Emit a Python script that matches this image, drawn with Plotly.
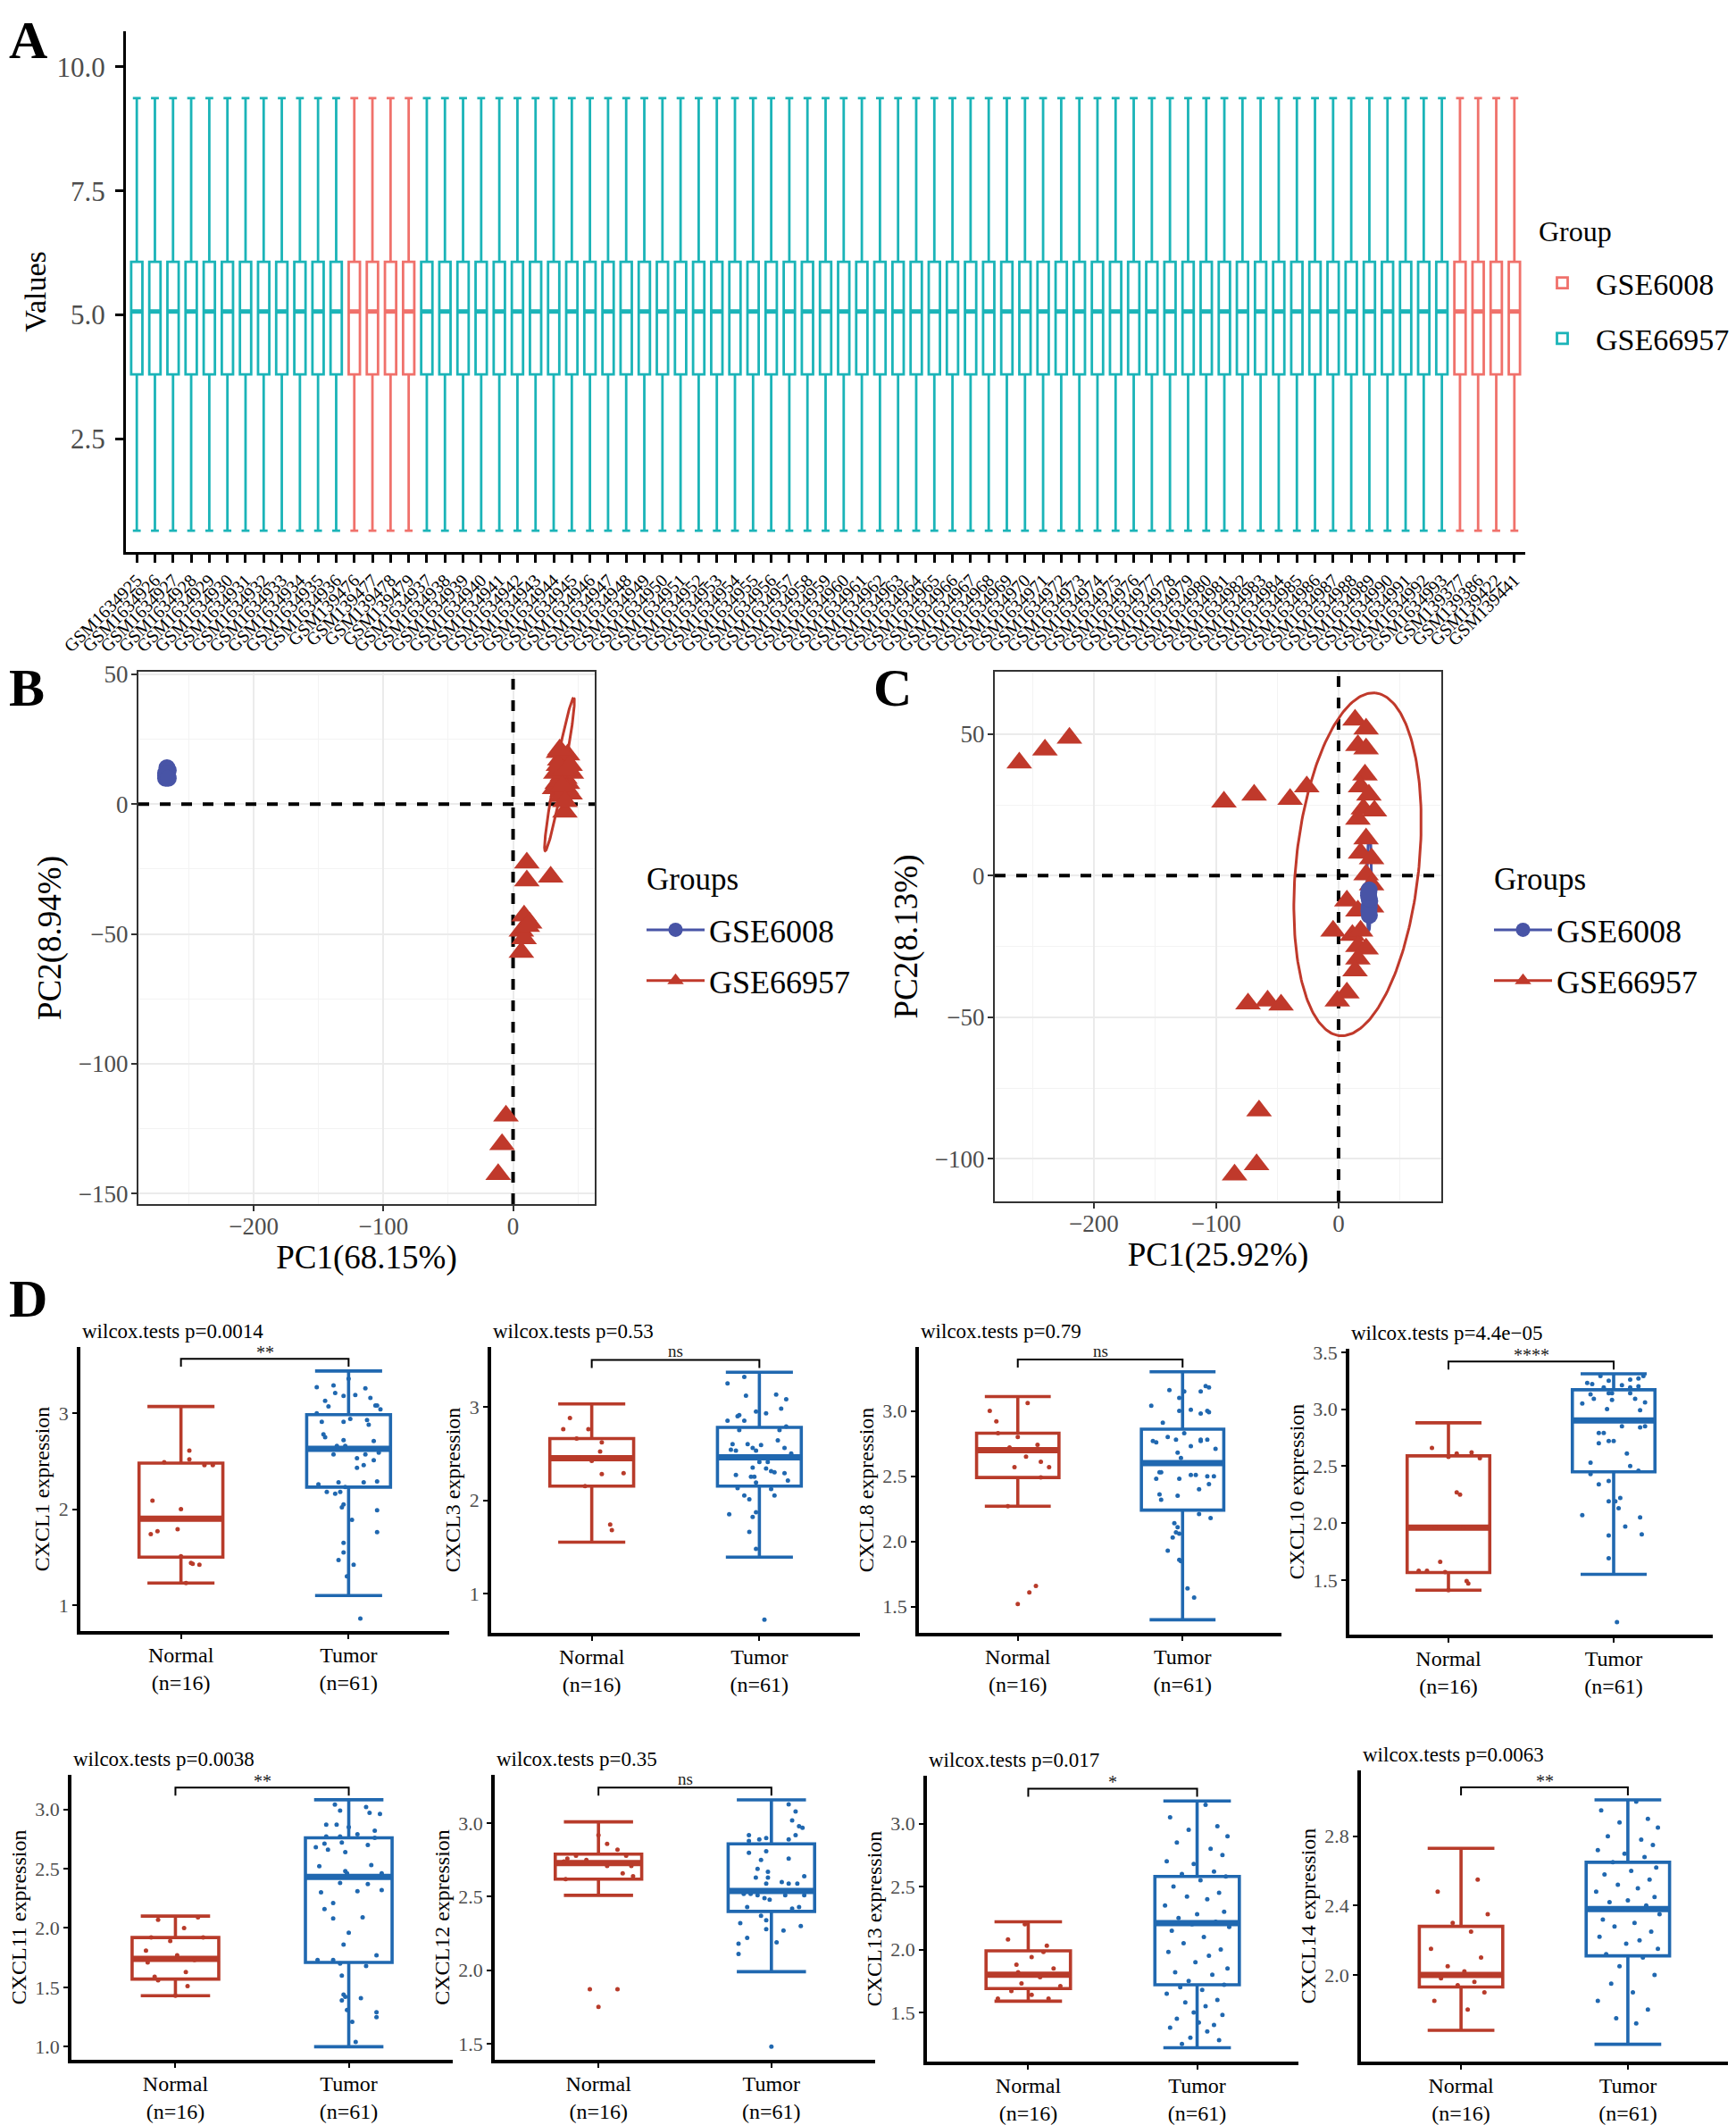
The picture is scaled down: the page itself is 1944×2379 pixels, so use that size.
import numpy as np
import plotly.graph_objects as go

W, H = 1944, 2379
SERIF = "Liberation Serif"
TXT_GREY = "#4D4D4D"

# ======================= DATA =======================
# ---- Panel A : normalised expression boxplots ----
A_samples = ([f"GSM16349{n}" for n in range(25, 37)]
             + [f"GSM1394{n}" for n in range(76, 80)]
             + [f"GSM16349{n}" for n in range(37, 94)]
             + ["GSM139377", "GSM139386", "GSM139422", "GSM139441"])
A_group = ["GSE66957"] * 12 + ["GSE6008"] * 4 + ["GSE66957"] * 57 + ["GSE6008"] * 4
A_lower = [0.65] * 77
A_q1 = [3.80] * 77
A_median = [5.07] * 77
A_q3 = [6.07] * 77
A_upper = [9.37] * 77

# ---- Panel B : PCA before correction ----
B_6008_x = [-268, -267, -268, -266, -267, -268, -267, -266]
B_6008_y = [10, 11, 12, 13, 14, 11, 12, 10]
B_66957_x = [35, 36, 37, 38, 34, 40, 32, 38, 43, 41, 39, 42, 36, 44, 40, 45, 33, 37, 42, 39, 35, 41, 38, 44, 36, 40,
             10.6, 10.6, 29, 8.5, 12.8, 6.4, 8.5, 6.4, 11, -5.5, -8.5, -11.5]
B_66957_y = [20, 17, 14, 11, 8, 10, 6, 5, 13, 16, 18, 8, 9, 4, -3, 12, 12, 3, 19, 13, 15, 6, 7, 15, 21, 1,
             -22.6, -29.5, -28, -43, -45.7, -48.8, -51.8, -57, -47, -120, -131, -142.6]
B_ell_center = (35.8, 11.5)
B_ell_a = (11.0, 29.5)
B_ell_b = (3.4, -0.3)

# ---- Panel C : PCA after correction ----
C_6008_x = [25, 24.5, 25.5, 25, 24.8, 25.2, 25, 24.6]
C_6008_y = [-5, -7, -9, -11, -12.5, -14, -8, -6]
C_66957_x = [-261, -240, -220, -93.7, -69, -39.6, -26, 13.5, 22.5, 15.8, 22.5, 21.6, 18, 24.8, 20.3, 29.3, 15.8,
             22.5, 18, 27, 22.5, 27, 6.8, 27, 15.8, -4.5, 11.3, 18, 15.8, 22.5, 15.8, 13.5, 6.8, -1,
             -74, -58, -47, -65, -67, -85]
C_66957_y = [39.8, 44.4, 48.6, 26, 28.5, 27, 31.4, 55, 51.8, 46, 44.8, 35.6, 31.4, 28.5, 23.6, 22.9, 20,
             13, 8, 6, 0.3, -3.2, -8.9, -11, -12.4, -19.5, -21, -19.5, -25, -25.8, -29.4, -33.6, -41.4, -44.2,
             -45.2, -44.2, -45.6, -83, -102, -105.6]
C_red_ell_center = (15.5, 4.0)
C_red_ell_a = (14.5, 60.5)
C_red_ell_b = (50.0, -2.0)
C_blue_ell_center = (25.0, -2.5)
C_blue_ell_a = (0.3, 17.0)
C_blue_ell_b = (1.8, 0.0)

# ---- Panel D : chemokine expression, Normal vs Tumor ----
genes = ["CXCL1", "CXCL3", "CXCL8", "CXCL10", "CXCL11", "CXCL12", "CXCL13", "CXCL14"]
pvals = ["0.0014", "0.53", "0.79", "4.4e\u221205", "0.0038", "0.35", "0.017", "0.0063"]
signif = ["**", "ns", "ns", "****", "**", "ns", "*", "**"]
cats = ["Normal<br>(n=16)", "Tumor<br>(n=61)"]
# box stats: lower whisker, Q1, median, Q3, upper whisker
normal_stats = [[1.23, 1.50, 1.90, 2.48, 3.07], [1.55, 2.15, 2.45, 2.66, 3.03], [2.27, 2.49, 2.70, 2.83, 3.11],
                [1.41, 1.565, 1.96, 2.59, 2.88], [1.43, 1.57, 1.74, 1.92, 2.10], [2.51, 2.62, 2.73, 2.79, 3.01],
                [1.59, 1.69, 1.80, 1.99, 2.22], [1.68, 1.93, 2.00, 2.28, 2.73]]
tumor_stats = [[1.10, 2.23, 2.63, 2.985, 3.44], [1.39, 2.15, 2.46, 2.78, 3.37], [1.40, 2.24, 2.60, 2.86, 3.30],
               [1.55, 2.45, 2.90, 3.17, 3.31], [1.00, 1.71, 2.43, 2.76, 3.08], [1.99, 2.40, 2.54, 2.86, 3.16],
               [1.22, 1.72, 2.21, 2.58, 3.18], [1.60, 2.11, 2.38, 2.65, 3.01]]

cxcl1_n = [2.61, 2.52, 2.49, 2.46, 2.46, 2.09, 2.00, 1.74, 1.77, 1.79, 1.51, 1.44, 1.43, 1.42, 1.90, 1.23]
cxcl1_nj = [0.05, 0.05, -0.10, 0.14, 0.19, -0.17, 0.00, -0.18, -0.14, -0.02, 0.00, 0.06, 0.07, 0.11, -0.05, 0.03]
cxcl1_t = [3.27, 3.29, 3.36, 3.26, 3.21, 3.18, 3.19, 3.16, 3.13, 3.07, 3.08, 3.08, 3.04, 3.00, 2.91, 2.91, 2.94,
           2.93, 2.88, 2.78, 2.75, 2.72, 2.71, 2.66, 2.66, 2.57, 2.53, 2.57, 2.59, 2.51, 2.46, 2.43, 2.26, 2.28,
           2.28, 2.29, 2.18, 2.16, 2.18, 2.23, 2.05, 2.02, 1.99, 1.89, 1.76, 1.65, 1.55, 1.47, 1.42, 1.30, 0.86]
cxcl1_tj = [-0.19, -0.09, 0.00, 0.10, -0.08, -0.03, 0.04, 0.13, -0.14, -0.12, 0.16, 0.17, 0.19, -0.19, -0.16,
            -0.03, 0.01, 0.11, 0.12, -0.15, -0.14, -0.03, 0.15, -0.07, -0.02, -0.09, 0.05, 0.10, 0.18, 0.15, 0.09,
            0.05, -0.18, -0.06, 0.09, 0.17, -0.13, -0.08, -0.05, -0.02, -0.03, -0.04, 0.17, 0.02, 0.17, -0.03,
            -0.03, -0.06, 0.03, -0.01, 0.07]

cxcl3_n = [2.88, 2.76, 2.76, 2.62, 2.52, 2.42, 2.28, 2.29, 1.74, 1.68, 2.66, 2.45, 2.15, 2.46]
cxcl3_nj = [-0.13, -0.17, -0.02, 0.06, 0.05, 0.00, 0.06, 0.19, 0.11, 0.12, -0.09, 0.15, -0.04, -0.08]
cxcl3_t = [3.25, 3.32, 3.12, 3.13, 3.08, 2.98, 2.95, 2.93, 2.90, 2.91, 2.85, 2.85, 2.79, 2.75, 2.75, 2.64, 2.60,
           2.60, 2.59, 2.56, 2.53, 2.54, 2.53, 2.56, 2.50, 2.41, 2.41, 2.35, 2.34, 2.31, 2.30, 2.29, 2.27, 2.25,
           2.25, 2.19, 2.21, 2.13, 2.12, 2.05, 2.01, 2.05, 1.85, 1.87, 1.82, 1.66, 1.48, 0.72]
cxcl3_tj = [-0.19, -0.09, -0.08, 0.10, 0.16, 0.13, -0.02, 0.04, -0.13, -0.12, -0.19, -0.09, 0.16, -0.12, 0.12,
            0.11, -0.16, -0.07, 0.01, -0.04, -0.02, -0.17, -0.14, 0.15, 0.19, 0.05, 0.00, -0.04, 0.04, 0.07, 0.09,
            0.15, -0.14, -0.05, -0.03, -0.02, 0.17, -0.13, 0.07, -0.09, -0.06, 0.09, -0.18, -0.02, -0.04, -0.06,
            -0.02, 0.03]

cxcl8_n = [3.00, 3.06, 2.92, 2.80, 2.72, 2.74, 2.57, 2.61, 2.57, 1.52, 1.61, 1.66, 2.65, 2.83, 2.49, 2.27]
cxcl8_nj = [-0.17, 0.06, -0.13, 0.00, -0.05, 0.12, -0.02, 0.14, 0.19, 0.00, 0.07, 0.11, 0.05, -0.12, 0.14, -0.06]
cxcl8_t = [3.04, 3.16, 3.10, 3.15, 3.15, 3.19, 3.18, 3.00, 3.01, 2.98, 3.00, 2.99, 2.91, 2.83, 2.77, 2.76, 2.80,
           2.78, 2.78, 2.77, 2.78, 2.73, 2.71, 2.68, 2.64, 2.53, 2.53, 2.48, 2.48, 2.51, 2.51, 2.50, 2.50, 2.44,
           2.40, 2.36, 2.32, 2.35, 2.21, 2.18, 2.14, 2.11, 2.07, 2.06, 2.03, 1.93, 1.86, 1.85, 1.64, 1.57]
cxcl8_tj = [-0.19, -0.08, -0.02, 0.01, 0.11, 0.14, 0.16, -0.02, 0.05, 0.11, 0.15, 0.16, -0.12, 0.01, -0.18,
            -0.16, -0.09, -0.04, 0.11, 0.11, 0.15, 0.05, 0.20, -0.03, -0.01, -0.14, -0.13, -0.16, -0.02, 0.05,
            0.08, 0.15, 0.19, 0.16, 0.10, -0.14, -0.13, -0.03, 0.10, 0.17, -0.05, -0.03, -0.04, -0.02, -0.06,
            -0.09, -0.02, -0.01, 0.03, 0.07]

cxcl10_n = [2.66, 2.61, 2.58, 2.62, 2.57, 2.27, 2.25, 1.66, 1.58, 1.58, 1.57, 1.49, 1.47, 1.96, 1.96, 1.41]
cxcl10_nj = [-0.10, 0.05, 0.00, 0.14, 0.19, 0.05, 0.07, -0.05, -0.18, -0.13, -0.02, 0.11, 0.12, -0.08, 0.09, 0.00]
cxcl10_t = [3.29, 3.25, 3.23, 3.22, 3.19, 3.21, 3.19, 3.26, 3.20, 3.27, 3.29, 3.14, 3.14, 3.14, 3.13, 3.09, 3.08,
            3.09, 3.05, 3.06, 3.00, 2.99, 2.85, 2.84, 2.85, 2.79, 2.79, 2.70, 2.72, 2.72, 2.61, 2.53, 2.50, 2.46,
            2.43, 2.37, 2.34, 2.22, 2.19, 2.19, 2.13, 2.07, 2.05, 1.97, 1.90, 1.89, 1.69, 1.13]
cxcl10_tj = [-0.08, -0.03, -0.16, -0.13, -0.06, 0.05, 0.10, 0.10, 0.15, 0.15, 0.18, -0.03, -0.01, 0.10, -0.14,
             -0.12, -0.01, 0.13, -0.19, 0.19, -0.04, 0.16, 0.05, 0.16, 0.19, -0.09, -0.06, -0.09, -0.03, 0.00,
             0.08, -0.14, 0.10, 0.15, -0.14, -0.03, -0.09, 0.04, -0.03, 0.01, 0.03, -0.19, 0.16, 0.07, 0.17,
             -0.03, -0.03, 0.02]

cxcl11_n = [2.07, 2.00, 1.89, 1.81, 1.77, 1.71, 1.63, 1.59, 1.51, 2.09, 1.92, 1.74, 1.43, 1.73, 1.56, 1.92]
cxcl11_nj = [-0.10, 0.05, -0.03, -0.17, 0.01, -0.16, 0.06, -0.12, 0.07, 0.13, 0.16, -0.20, 0.00, 0.11, -0.10, -0.14]
cxcl11_t = [3.04, 2.99, 3.02, 2.97, 2.96, 2.87, 2.87, 2.85, 2.82, 2.79, 2.77, 2.77, 2.76, 2.68, 2.71, 2.72, 2.70,
            2.66, 2.64, 2.52, 2.53, 2.48, 2.46, 2.46, 2.38, 2.37, 2.31, 2.32, 2.30, 2.21, 2.16, 2.09, 2.08, 1.96,
            1.86, 1.77, 1.73, 1.73, 1.70, 1.68, 1.60, 1.44, 1.42, 1.39, 1.41, 1.31, 1.29, 1.25, 1.21, 1.04]
cxcl11_tj = [-0.08, -0.05, 0.10, 0.12, 0.18, -0.13, -0.07, 0.00, 0.15, 0.05, -0.13, -0.05, 0.15, -0.19, -0.14,
             -0.04, 0.11, -0.12, -0.02, -0.17, 0.13, -0.02, -0.01, 0.19, -0.05, 0.11, 0.05, 0.19, -0.16, -0.09,
             -0.14, 0.08, -0.09, 0.00, -0.03, 0.16, -0.18, -0.09, -0.05, 0.10, -0.04, -0.03, -0.02, -0.04, 0.07,
             -0.01, 0.16, 0.16, 0.02, 0.04]

cxcl12_n = [2.92, 2.86, 2.82, 2.76, 2.78, 2.71, 2.71, 2.66, 1.87, 1.87, 1.75, 2.75, 2.78, 2.62, 2.64, 2.74]
cxcl12_nj = [0.00, 0.05, 0.11, -0.18, -0.13, 0.05, 0.19, 0.14, -0.05, 0.11, 0.00, -0.07, 0.16, -0.19, 0.20, -0.20]
cxcl12_t = [3.13, 3.08, 3.02, 2.98, 2.97, 2.92, 2.92, 2.89, 2.90, 2.89, 2.88, 2.80, 2.81, 2.75, 2.76, 2.69, 2.67,
            2.63, 2.63, 2.64, 2.60, 2.59, 2.59, 2.59, 2.52, 2.52, 2.51, 2.49, 2.48, 2.51, 2.51, 2.43, 2.42, 2.43,
            2.37, 2.34, 2.32, 2.30, 2.28, 2.27, 2.22, 2.19, 2.18, 2.11, 1.48]
cxcl12_tj = [0.10, 0.14, 0.12, 0.16, 0.18, -0.13, 0.14, -0.07, -0.03, 0.10, -0.13, -0.13, -0.03, -0.06, 0.10,
             -0.08, -0.02, -0.09, -0.02, 0.19, 0.06, -0.03, 0.10, 0.15, -0.16, -0.12, -0.08, -0.04, -0.01, 0.08,
             0.19, -0.14, 0.12, 0.16, -0.06, -0.03, -0.18, 0.17, -0.03, 0.07, -0.14, 0.03, -0.19, -0.19, 0.00]

cxcl13_n = [2.20, 2.08, 2.03, 1.98, 1.94, 1.88, 1.85, 1.82, 1.80, 1.78, 1.73, 1.71, 1.67, 1.64, 1.61, 1.61]
cxcl13_nj = [-0.02, -0.12, 0.11, 0.09, 0.02, -0.07, 0.15, -0.06, -0.15, 0.07, -0.04, 0.19, -0.10, 0.02, -0.18, 0.12]
cxcl13_t = [3.15, 3.05, 2.98, 2.95, 2.90, 2.85, 2.80, 2.75, 2.70, 2.68, 2.62, 2.60, 2.58, 2.55, 2.50, 2.45, 2.42,
            2.40, 2.35, 2.30, 2.28, 2.25, 2.22, 2.20, 2.18, 2.15, 2.10, 2.05, 2.00, 1.98, 1.95, 1.90, 1.85, 1.82,
            1.80, 1.75, 1.72, 1.70, 1.68, 1.65, 1.60, 1.58, 1.55, 1.50, 1.48, 1.45, 1.42, 1.40, 1.38, 1.35, 1.30,
            1.28, 1.25]
cxcl13_tj = [0.05, -0.16, 0.12, -0.05, 0.18, -0.12, 0.08, 0.15, -0.18, -0.02, 0.10, -0.09, 0.17, 0.02, -0.14,
             0.13, -0.06, 0.06, -0.19, 0.16, 0.00, -0.11, 0.11, -0.03, 0.19, -0.15, 0.04, -0.08, 0.14, -0.17, 0.07,
             -0.01, 0.18, -0.13, 0.09, -0.05, 0.16, -0.10, 0.03, -0.18, 0.12, -0.07, 0.05, -0.02, 0.15, -0.12, 0.01,
             0.10, -0.16, 0.06, -0.04, 0.13, -0.09]

cxcl14_n = [2.55, 2.48, 2.35, 2.30, 2.25, 2.15, 2.10, 2.05, 2.02, 2.00, 1.98, 1.96, 1.94, 1.90, 1.85, 1.80]
cxcl14_nj = [0.10, -0.14, 0.16, -0.05, 0.06, -0.18, 0.12, -0.08, 0.02, 0.17, -0.12, 0.08, -0.02, 0.14, -0.16, 0.04]
cxcl14_t = [3.00, 2.95, 2.90, 2.88, 2.85, 2.80, 2.78, 2.75, 2.72, 2.70, 2.68, 2.65, 2.62, 2.60, 2.58, 2.55, 2.52,
            2.50, 2.48, 2.45, 2.43, 2.42, 2.40, 2.38, 2.35, 2.32, 2.30, 2.28, 2.25, 2.22, 2.20, 2.18, 2.15, 2.12,
            2.10, 2.05, 2.00, 1.95, 1.90, 1.85, 1.80, 1.75, 1.72]
cxcl14_tj = [0.05, -0.16, 0.12, -0.05, 0.18, -0.12, 0.08, 0.15, -0.18, -0.02, 0.10, -0.09, 0.17, 0.02, -0.14,
             0.13, -0.06, 0.06, -0.19, 0.16, 0.00, -0.11, 0.11, -0.03, 0.19, -0.15, 0.04, -0.08, 0.14, -0.17, 0.07,
             -0.01, 0.18, -0.13, 0.09, -0.05, 0.16, -0.10, 0.03, -0.18, 0.12, -0.07, 0.05]

normal_pts = [cxcl1_n, cxcl3_n, cxcl8_n, cxcl10_n, cxcl11_n, cxcl12_n, cxcl13_n, cxcl14_n]
normal_jit = [cxcl1_nj, cxcl3_nj, cxcl8_nj, cxcl10_nj, cxcl11_nj, cxcl12_nj, cxcl13_nj, cxcl14_nj]
tumor_pts = [cxcl1_t, cxcl3_t, cxcl8_t, cxcl10_t, cxcl11_t, cxcl12_t, cxcl13_t, cxcl14_t]
tumor_jit = [cxcl1_tj, cxcl3_tj, cxcl8_tj, cxcl10_tj, cxcl11_tj, cxcl12_tj, cxcl13_tj, cxcl14_tj]

# ======================= STYLE / LAYOUT =======================
TEAL, SALMON = "#1BB4B8", "#F0716B"
PC_RED, PC_BLUE = "#C0392B", "#4854A6"
N_RED, T_BLUE = "#B83B2A", "#2068B0"


def xdom(x0, x1):
    return [x0 / W, x1 / W]


def ydom(y0, y1):
    return [1 - y1 / H, 1 - y0 / H]


def px_x(x):
    return x / W


def px_y(y):
    return 1 - y / H


def ellipse(c, a, b, n=240):
    t = np.linspace(0, 2 * np.pi, n)
    return c[0] + a[0] * np.cos(t) + b[0] * np.sin(t), c[1] + a[1] * np.cos(t) + b[1] * np.sin(t)


fig = go.Figure()
layout = dict(template="none", width=W, height=H, margin=dict(l=0, r=0, t=0, b=0, autoexpand=False),
              paper_bgcolor="white", plot_bgcolor="rgba(0,0,0,0)", font=dict(family=SERIF, color="black"),
              showlegend=True, boxmode="overlay")
annotations, shapes = [], []

# ---------------- Panel A ----------------
A_pos = list(range(len(A_samples)))
A_colors = {"GSE6008": SALMON, "GSE66957": TEAL}
for grp in ["GSE6008", "GSE66957"]:
    idx = [i for i, g in enumerate(A_group) if g == grp]
    fig.add_trace(go.Box(
        x=[A_pos[i] for i in idx], q1=[A_q1[i] for i in idx], median=[A_median[i] for i in idx],
        q3=[A_q3[i] for i in idx], lowerfence=[A_lower[i] for i in idx], upperfence=[A_upper[i] for i in idx],
        name=grp, legendgroup=grp, legend="legend", width=0.62, whiskerwidth=0.7, boxpoints=False,
        line=dict(color=A_colors[grp], width=2.8), fillcolor="rgba(255,255,255,0)", xaxis="x", yaxis="y",
        hoverinfo="skip"))
    mx, my = [], []
    for i in idx:
        mx += [A_pos[i] - 0.31, A_pos[i] + 0.31, None]
        my += [A_median[i], A_median[i], None]
    fig.add_trace(go.Scatter(x=mx, y=my, mode="lines", line=dict(color=A_colors[grp], width=5),
                             showlegend=False, hoverinfo="skip", xaxis="x", yaxis="y"))
layout["xaxis"] = dict(domain=xdom(133, 1700), anchor="y", range=[-0.6, 76.6], tickmode="array", tickvals=A_pos,
                       ticktext=A_samples, tickangle=-45, automargin=False,
                       tickfont=dict(size=20, color="black"), showline=True, linecolor="black", linewidth=3,
                       ticks="outside", ticklen=9, tickwidth=2.5, tickcolor="black", showgrid=False, zeroline=False)
layout["yaxis"] = dict(domain=ydom(27, 610), anchor="x", range=[0.22, 10.72], tickvals=[2.5, 5.0, 7.5, 10.0],
                       ticktext=["2.5", "5.0", "7.5", "10.0"], tickfont=dict(size=31, color=TXT_GREY),
                       showline=True, linecolor="black", linewidth=3, ticks="outside", ticklen=9, tickwidth=2.5,
                       tickcolor="black", showgrid=False, zeroline=False, automargin=False, ticklabelstandoff=5,
                       title=dict(text="Values", font=dict(size=34), standoff=2))
layout["legend"] = dict(x=px_x(1704), y=px_y(280), xanchor="left", yanchor="top", bgcolor="rgba(0,0,0,0)",
                        font=dict(size=34), tracegroupgap=15, itemwidth=65)
annotations.append(dict(x=px_x(1713), y=px_y(251), xref="paper", yref="paper", text="Group", showarrow=False,
                        xanchor="left", yanchor="middle", font=dict(size=32, color="black")))


# ---------------- Panel B & C (PCA) ----------------
def pca_axes(k, xd, yd, xr, yr, xtitle, ytitle):
    common = dict(showline=True, mirror=True, linecolor="#333333", linewidth=2.2, ticks="outside", ticklen=6,
                  tickwidth=2, tickcolor="#333333", tickfont=dict(size=27, color=TXT_GREY), showgrid=True,
                  gridcolor="#EBEBEB", gridwidth=2.2, zeroline=False, automargin=False)
    layout[f"xaxis{k}"] = dict(domain=xd, anchor=f"y{k}", range=xr, dtick=100, tick0=0, ticklabelstandoff=-7,
                               minor=dict(dtick=50, tick0=0, showgrid=True, gridcolor="#F3F3F3", gridwidth=1.2),
                               title=dict(text=xtitle, font=dict(size=37), standoff=2), **common)
    layout[f"yaxis{k}"] = dict(domain=yd, anchor=f"x{k}", range=yr, dtick=50, tick0=0, ticklabelstandoff=-2,
                               minor=dict(dtick=25, tick0=0, showgrid=True, gridcolor="#F3F3F3", gridwidth=1.2),
                               title=dict(text=ytitle, font=dict(size=37), standoff=8), **common)


pca_axes(2, xdom(147, 658), ydom(744, 1340), [-289, 63], [-154, 51], "PC1(68.15%)", "PC2(8.94%)")
pca_axes(3, xdom(1106, 1606), ydom(744, 1337), [-281, 84], [-115, 72], "PC1(25.92%)", "PC2(8.13%)")


def pca_traces(k, xr, yr, bx, by, rx, ry, ells, leg):
    # reference lines at PC1 = 0 and PC2 = 0
    fig.add_trace(go.Scatter(x=[0, 0], y=yr, mode="lines", line=dict(color="black", width=4, dash="dash"),
                             showlegend=False, hoverinfo="skip", xaxis=f"x{k}", yaxis=f"y{k}"))
    fig.add_trace(go.Scatter(x=xr, y=[0, 0], mode="lines", line=dict(color="black", width=4, dash="dash"),
                             showlegend=False, hoverinfo="skip", xaxis=f"x{k}", yaxis=f"y{k}"))
    for (c, a, b, col) in ells:
        ex, ey = ellipse(c, a, b)
        fig.add_trace(go.Scatter(x=ex, y=ey, mode="lines", line=dict(color=col, width=3), showlegend=False,
                                 hoverinfo="skip", xaxis=f"x{k}", yaxis=f"y{k}"))
    fig.add_trace(go.Scatter(x=rx, y=ry, mode="markers", marker=dict(symbol="triangle-up", size=25, color=PC_RED),
                             showlegend=False, xaxis=f"x{k}", yaxis=f"y{k}"))
    fig.add_trace(go.Scatter(x=bx, y=by, mode="markers", marker=dict(symbol="circle", size=19, color=PC_BLUE),
                             showlegend=False, xaxis=f"x{k}", yaxis=f"y{k}"))
    fig.add_trace(go.Scatter(x=[None], y=[None], mode="lines+markers", name="GSE6008", legend=leg,
                             legendgroup=f"{leg}a", marker=dict(symbol="circle", size=19, color=PC_BLUE),
                             line=dict(color=PC_BLUE, width=3), xaxis=f"x{k}", yaxis=f"y{k}"))
    fig.add_trace(go.Scatter(x=[None], y=[None], mode="lines+markers", name="GSE66957", legend=leg,
                             legendgroup=f"{leg}b", marker=dict(symbol="triangle-up", size=22, color=PC_RED),
                             line=dict(color=PC_RED, width=3), xaxis=f"x{k}", yaxis=f"y{k}"))


pca_traces(2, [-289, 63], [-154, 51], B_6008_x, B_6008_y, B_66957_x, B_66957_y,
           [(B_ell_center, B_ell_a, B_ell_b, PC_RED)], "legend2")
pca_traces(3, [-281, 84], [-115, 72], C_6008_x, C_6008_y, C_66957_x, C_66957_y,
           [(C_red_ell_center, C_red_ell_a, C_red_ell_b, PC_RED),
            (C_blue_ell_center, C_blue_ell_a, C_blue_ell_b, PC_BLUE)], "legend3")
for name, xpx, tx in (("legend2", 711, 714), ("legend3", 1660, 1663)):
    layout[name] = dict(x=px_x(xpx), y=px_y(1003), xanchor="left", yanchor="top", bgcolor="rgba(0,0,0,0)",
                        font=dict(size=36), tracegroupgap=7, itemwidth=65)
    annotations.append(dict(x=px_x(tx), y=px_y(977), xref="paper", yref="paper", text="Groups", showarrow=False,
                            xanchor="left", yanchor="middle", font=dict(size=35, color="black")))

# ---------------- Panel D ----------------
D_xpx = [(82, 495), (542, 955), (1021, 1427), (1503, 1910), (72, 499), (546, 972), (1030, 1446), (1516, 1927)]
D_ypx = [(1500, 1818), (1500, 1820), (1500, 1820), (1502, 1822), (1979, 2298), (1979, 2298), (1980, 2300),
         (1974, 2300)]
D_yrange = [(0.73, 3.69), (0.58, 3.64), (1.30, 3.49), (1.02, 3.53), (0.89, 3.29), (1.39, 3.33), (1.11, 3.38),
            (1.50, 3.18)]
D_ticks = [[1, 2, 3], [1, 2, 3], [1.5, 2.0, 2.5, 3.0], [1.5, 2.0, 2.5, 3.0, 3.5], [1.0, 1.5, 2.0, 2.5, 3.0],
           [1.5, 2.0, 2.5, 3.0], [1.5, 2.0, 2.5, 3.0], [2.0, 2.4, 2.8]]
D_ticktext = [["1", "2", "3"], ["1", "2", "3"], ["1.5", "2.0", "2.5", "3.0"], ["1.5", "2.0", "2.5", "3.0", "3.5"],
              ["1.0", "1.5", "2.0", "2.5", "3.0"], ["1.5", "2.0", "2.5", "3.0"], ["1.5", "2.0", "2.5", "3.0"],
              ["2.0", "2.4", "2.8"]]

for i, g in enumerate(genes):
    k = i + 4
    xa, ya = f"x{k}", f"y{k}"
    for pos, stats, col in ((1, normal_stats[i], N_RED), (2, tumor_stats[i], T_BLUE)):
        fig.add_trace(go.Box(x=[pos], lowerfence=[stats[0]], q1=[stats[1]], median=[stats[2]], q3=[stats[3]],
                             upperfence=[stats[4]], width=0.5, whiskerwidth=0.8, boxpoints=False,
                             line=dict(color=col, width=3.6), fillcolor="rgba(255,255,255,0)",
                             showlegend=False, hoverinfo="skip", xaxis=xa, yaxis=ya))
        # thicker median bar (ggplot fatten)
        fig.add_trace(go.Scatter(x=[pos - 0.25, pos + 0.25], y=[stats[2], stats[2]], mode="lines",
                                 line=dict(color=col, width=7), showlegend=False, hoverinfo="skip",
                                 xaxis=xa, yaxis=ya))
    for pos, vals, jit, col in ((1, normal_pts[i], normal_jit[i], N_RED), (2, tumor_pts[i], tumor_jit[i], T_BLUE)):
        fig.add_trace(go.Scatter(x=[pos + j for j in jit[:len(vals)]], y=vals[:len(jit)], mode="markers",
                                 marker=dict(size=5, color=col), showlegend=False, xaxis=xa, yaxis=ya))
    y0, y1 = D_yrange[i]
    span = y1 - y0
    top = max(normal_stats[i][4], tumor_stats[i][4], max(normal_pts[i]), max(tumor_pts[i]))
    yb = top + 0.043 * span
    drop = 0.028 * span
    shapes.append(dict(type="path", xref=xa, yref=ya, line=dict(color="black", width=2),
                       path=f"M 1,{yb - drop} L 1,{yb} L 2,{yb} L 2,{yb - drop}"))
    annotations.append(dict(x=1.5, y=yb, xref=xa, yref=ya, text=signif[i], showarrow=False,
                            yanchor="bottom", yshift=-6 if signif[i] != "ns" else -3,
                            font=dict(size=20 if signif[i] != "ns" else 19, color="#222222")))
    annotations.append(dict(x=0, y=1, xref=f"{xa} domain", yref=f"{ya} domain", text=f"wilcox.tests p={pvals[i]}",
                            showarrow=False, xanchor="left", yanchor="bottom", yshift=3,
                            font=dict(size=23, color="black")))
    layout[f"xaxis{k}"] = dict(domain=xdom(*D_xpx[i]), anchor=ya, range=[0.4, 2.6], tickvals=[1, 2],
                               ticktext=cats, tickfont=dict(size=24, color="black"), showline=True,
                               linecolor="black", linewidth=3.6, ticks="outside", ticklen=5, tickwidth=2,
                               tickcolor="black", showgrid=False, zeroline=False, automargin=False,
                               ticklabelstandoff=-3)
    layout[f"yaxis{k}"] = dict(domain=ydom(*D_ypx[i]), anchor=xa, range=list(D_yrange[i]), tickvals=D_ticks[i],
                               ticktext=D_ticktext[i], tickfont=dict(size=22, color=TXT_GREY), showline=True,
                               linecolor="black", linewidth=3.6, ticks="outside", ticklen=5, tickwidth=2,
                               tickcolor="black", showgrid=False, zeroline=False, automargin=False,
                               title=dict(text=f"{g} expression", font=dict(size=24), standoff=4))

# ---------------- Panel letters ----------------
annotations.append(dict(x=0, y=1, xref="paper", yref="paper", text="<b>A</b>", showarrow=False,
                        xanchor="left", yanchor="top", yshift=-2, font=dict(size=60, color="black")))
for letter, xpx, ypx in (("B", 0, 762), ("C", 968, 762), ("D", 0, 1446)):
    annotations.append(dict(x=px_x(xpx), y=px_y(ypx), xref="paper", yref="paper", text=f"<b>{letter}</b>",
                            showarrow=False, xanchor="left", yanchor="middle", font=dict(size=60, color="black")))

layout["annotations"] = annotations
layout["shapes"] = shapes
fig.update_layout(**layout)
fig.write_html("out.html")
